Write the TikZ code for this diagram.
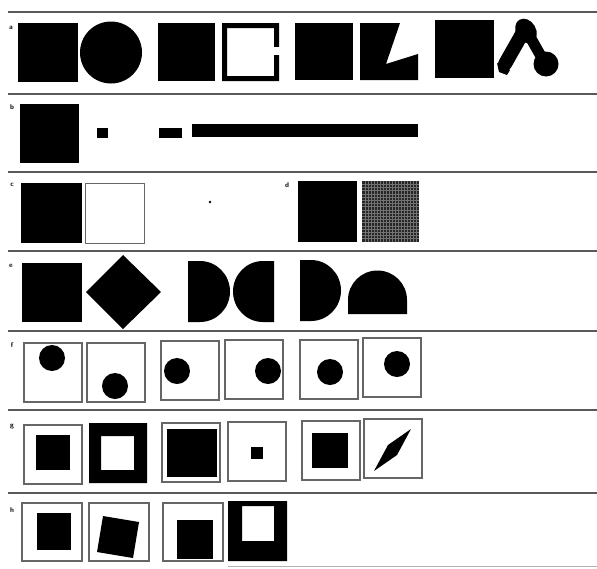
\documentclass[tikz,border=0pt]{standalone}
\usepackage{tikz}

\begin{document}
\begin{tikzpicture}[x=1pt,y=-1pt,
 rule/.style={draw=black!65,line width=1.4pt},
 frame/.style={draw=black!60,line width=1.1pt},
 lbl/.style={font=\fontsize{7}{7}\sffamily\bfseries,inner sep=0pt}]
\useasboundingbox(0,0)rectangle(597,568);
% rules and row letters
\foreach \y in {12,94,172,251,331,410,493}\draw[rule](8,\y)--(597,\y);
\draw[rule,draw=black!30,line width=1pt](228,566)--(597,566);
\foreach \t/\x/\y in {a/11/28,b/12/107,c/12/185,d/287/185,e/11/266,f/12/345,g/12/427,h/12/510}
 \node[lbl](l\t)at(\x,\y){\t};
% a
\fill(18,23)rectangle(78,82);
\fill(111,52.5)circle(31);
\fill(158,23)rectangle(215,81);
\fill[even odd rule](222,23)rectangle(279,81)(227,28)rectangle(274,76);
\fill[white](272,47)rectangle(280,55);
\fill(295,23)rectangle(353,80);
\fill(360,23)--(400,23)--(386,64)--(418,54)--(418,80)--(360,80)--cycle;
\fill(435,20)rectangle(494,78);
\fill[rotate around={30:(526,31)}](526,31)ellipse[x radius=10,y radius=13];
\draw[line width=14pt,line cap=round](522,34)--(505,64);
\draw[line width=11pt,line cap=round](529,35)--(542,58);
\fill(546,64)circle(12.5);
\fill(497,63)--(510,70)--(507,75)--(499,72)--cycle;
% b
\fill(20,104)rectangle(79,163);
\fill(97,128)rectangle(108,138);
\fill(159,128)rectangle(182,138);
\fill(192,124)rectangle(418,137);
% c and d
\fill(21,183)rectangle(82,243);
\draw[frame,line width=0.9pt](85,183)rectangle(144,243);
\fill(210,202)circle(1.3);
\fill(298,181)rectangle(357,242);
\fill[black!85](362,181)rectangle(419,242);
\foreach \i in {1,...,18}{
 \draw[black!55,line width=0.35pt](362+\i*3,181)--(362+\i*3,242);
 \draw[black!55,line width=0.35pt](362,181+\i*3.2)--(419,181+\i*3.2);}
% e
\fill(22,263)rectangle(82,322);
\fill(123,255)--(161,292)--(123,329)--(86,292)--cycle;
\fill(188,261)--(200,261)arc[start angle=-90,end angle=90,x radius=30,y radius=30.5]--(188,322)--cycle;
\fill(274,261)--(263,261)arc[start angle=-90,end angle=-270,x radius=30,y radius=30.5]--(274,322)--cycle;
\fill(300,260)--(311,260)arc[start angle=-90,end angle=90,x radius=30,y radius=30.5]--(300,321)--cycle;
\fill(348,314)--(348,300)arc[start angle=180,end angle=360,radius=29.5]--(407,314)--cycle;
% f
\foreach \x/\y/\u/\v in {24/343/52/358,87/343/115/386,161/341/177/371,225/340/268/371,300/340/330/372,363/338/397/364}{
 \draw[frame](\x,\y)rectangle+(58,59);
 \fill(\u,\v)circle(13);}
% g
\foreach \x/\y in {24/425,162/423,228/422,302/421,364/419}\draw[frame](\x,\y)rectangle+(58,59);
\fill(36,435)rectangle(70,470);
\fill[even odd rule](89,423)rectangle(147,483)(101,436)rectangle(134,470);
\fill(167,429)rectangle(217,477);
\fill(251,447)rectangle(263,459);
\fill(312,433)rectangle(348,468);
\fill(411,429)--(397,455)--(374,471)--(388,445)--cycle;
% h
\foreach \x/\y in {22/503,89/503,163/503}\draw[frame](\x,\y)rectangle+(60,58);
\fill(37,513)rectangle(71,550);
\fill(103,516)--(139,522)--(133,558)--(97,552)--cycle;
\fill(177,520)rectangle(213,559);
\fill[even odd rule](228,501)rectangle(287,561)(242,506)rectangle(274,541);
\end{tikzpicture}
\end{document}
